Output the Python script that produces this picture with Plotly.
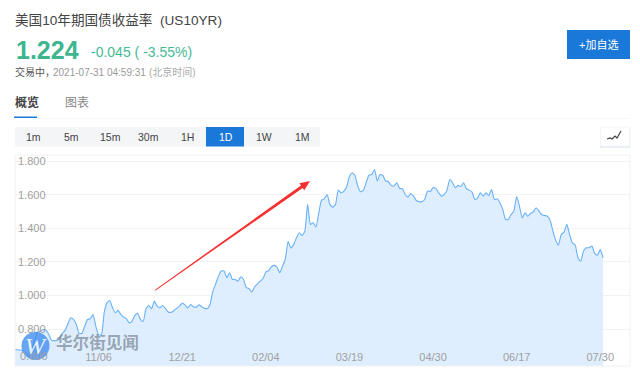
import plotly.graph_objects as go

tick_labels = ["09/23", "11/06", "12/21", "02/04", "03/19", "04/30", "06/17", "07/30"]
y_ticks = [0.6, 0.8, 1.0, 1.2, 1.4, 1.6, 1.8]
y_tick_labels = ["", "0.800", "1.000", "1.200", "1.400", "1.600", "1.800"]
periods = ["1m", "5m", "15m", "30m", "1H", "1D", "1W", "1M"]
yields = [
    .677, .677, .675, .667, .655, .647, .679, .734, .778, .788, .796, .794, .772, .736, .730, .732,
    .748, .774, .792, .833, .867, .857, .827, .774, .774, .817, .857, .861, .887, .817, .766, .766,
    .897, .956, .970, .927, .897, .911, .887, .871, .861, .837, .847, .881, .893, .857, .845, .921,
    .940, .921, .966, .936, .927, .940, .921, .901, .899, .909, .923, .936, .954, .944, .925, .946,
    .933, .929, .944, .933, .923, .921, .948, 1.026, 1.069, 1.115, 1.145, 1.145, 1.105, 1.135, 1.095, 1.095,
    1.085, 1.111, 1.095, 1.046, 1.040, 1.020, 1.052, 1.069, 1.085, 1.101, 1.139, 1.147, 1.171, 1.179, 1.169, 1.135,
    1.175, 1.218, 1.323, 1.282, 1.304, 1.343, 1.373, 1.357, 1.383, 1.542, 1.423, 1.433, 1.407, 1.492, 1.567, 1.575,
    1.601, 1.542, 1.526, 1.542, 1.627, 1.611, 1.621, 1.647, 1.710, 1.730, 1.714, 1.651, 1.617, 1.627, 1.671, 1.716,
    1.720, 1.750, 1.681, 1.720, 1.714, 1.681, 1.677, 1.655, 1.651, 1.671, 1.637, 1.635, 1.601, 1.585, 1.607, 1.591,
    1.565, 1.558, 1.558, 1.571, 1.621, 1.619, 1.641, 1.637, 1.611, 1.591, 1.601, 1.627, 1.690, 1.671, 1.641, 1.655,
    1.649, 1.671, 1.635, 1.627, 1.615, 1.571, 1.581, 1.611, 1.591, 1.611, 1.595, 1.631, 1.571, 1.575, 1.552, 1.512,
    1.452, 1.452, 1.482, 1.502, 1.589, 1.532, 1.462, 1.492, 1.472, 1.488, 1.498, 1.522, 1.502, 1.480, 1.476, 1.472,
    1.448, 1.383, 1.329, 1.300, 1.363, 1.377, 1.423, 1.363, 1.313, 1.300, 1.224, 1.204, 1.265, 1.284, 1.284, 1.294,
    1.250, 1.240, 1.274, 1.224,
]
days = list(range(len(yields)))
tick_days = [d * 30 for d in range(len(tick_labels))]

W, H = 640, 373
L, R, T, B = 15, 630, 155, 366
FONT = "Liberation Sans, Noto Sans CJK SC, sans-serif"


def px(x):
    return (x - L) / (R - L)


def py(y):
    return (B - y) / (B - T)


shapes, annos = [], []


def rect(x0, y0, x1, y1, fill, line=None, layer="above"):
    shapes.append(dict(type="rect", xref="paper", yref="paper", x0=px(x0), x1=px(x1), y0=py(y1), y1=py(y0),
                       fillcolor=fill, line=dict(color=line or fill, width=1 if line else 0), layer=layer))


def text(x, y, s, size, color, anchor="left", bold=False, family=FONT):
    annos.append(dict(xref="paper", yref="paper", x=px(x), y=py(y), text=f"<b>{s}</b>" if bold else s,
                      showarrow=False, xanchor=anchor, yanchor="middle", borderpad=0,
                      font=dict(size=size, color=color, family=family)))


# header
text(13.5, 20, "美国10年期国债收益率&nbsp;&nbsp;(US10YR)", 13.6, "#444444")
text(14.5, 50, "1.224", 25, "#3db58f", bold=True)
text(89.5, 52, "-0.045 ( -3.55%)", 14, "#45b995")
text(13.5, 72, "交易中，", 10, "#555555")
text(52, 72, "2021-07-31 04:59:31", 10, "#999999")
text(148, 72, "(北京时间)", 10, "#aaaaaa")
text(13.5, 103, "概览", 12, "#444444", bold=True)
text(63.5, 103, "图表", 12, "#888888")
rect(14, 116.5, 37, 118, "#1a78d8")
rect(37, 118, 630, 118.8, "#f3f4f6")
rect(567, 30, 630, 59, "#1a78d8")
text(598.5, 45, "+加自选", 11, "#ffffff", "center")

# period buttons
rect(15, 127, 320, 146.5, "#f4f5f7")
rect(206, 127, 244, 146.5, "#1a78d8")
for i, p in enumerate(periods):
    text(33.5 + 38.4 * i, 137, p, 10.5, "#ffffff" if p == "1D" else "#444444", "center")

# chart-type icon button
rect(600, 127.5, 630.5, 148, "#e9eef6")
rect(600.5, 127, 629.5, 146, "#ffffff", line="#f2f4f8")
icon = [(607, 139), (610, 138), (612, 139), (615, 136), (617, 138), (621, 131)]
shapes.append(dict(type="path", xref="paper", yref="paper", layer="above",
                   path="M" + " L".join(f"{px(a)},{py(b)}" for a, b in icon),
                   line=dict(color="#444444", width=1.2)))

# frame and clip of the first date label
rect(0, 345, 15, 366, "#ffffff")
shapes.append(dict(type="rect", xref="paper", yref="paper", x0=0, x1=1, y0=0, y1=1, layer="above",
                   line=dict(color="#f1f1f1", width=1)))

# red arrow
tail, tip = (155, 290.3), (310, 181)
dx, dy = tip[0] - tail[0], tip[1] - tail[1]
n = (dx * dx + dy * dy) ** 0.5
ux, uy, nx, ny = dx / n, dy / n, -dy / n, dx / n
hb = (tip[0] - 10 * ux, tip[1] - 10 * uy)
poly = [(tail[0] + .4 * nx, tail[1] + .4 * ny), (hb[0] + 1.5 * nx, hb[1] + 1.5 * ny), (hb[0] + 4.2 * nx, hb[1] + 4.2 * ny), tip,
        (hb[0] - 4.2 * nx, hb[1] - 4.2 * ny), (hb[0] - 1.5 * nx, hb[1] - 1.5 * ny), (tail[0] - .4 * nx, tail[1] - .4 * ny)]
shapes.append(dict(type="path", xref="paper", yref="paper", layer="above",
                   path="M" + " L".join(f"{px(a)},{py(b)}" for a, b in poly) + " Z",
                   fillcolor="#f5302f", line=dict(color="#f5302f", width=0)))

# lowest y label sits above its gridline
text(19, 356, "0.600", 11, "#a0a0a0")

# watermark
shapes.append(dict(type="circle", xref="paper", yref="paper", layer="above", x0=px(21.5), x1=px(49.5), y0=py(360), y1=py(332),
                   fillcolor="rgba(62,140,240,0.78)", line=dict(width=0)))
text(35.5, 346, "<i>W</i>", 24, "rgba(255,255,255,0.9)", "center", family="Liberation Serif")
text(55, 343, "华尔街见闻", 16.6, "rgba(115,128,142,0.68)", bold=True)

fig = go.Figure(go.Scatter(x=days, y=yields, mode="lines", fill="tozeroy", fillcolor="#dfeefe",
                           line=dict(color="#69b1f8", width=1.1, shape="spline", smoothing=0.5),
                           hoverinfo="skip"))
fig.update_layout(
    width=W, height=H, autosize=False, showlegend=False,
    paper_bgcolor="#ffffff", plot_bgcolor="#ffffff",
    margin=dict(l=L, r=W - R, t=T, b=H - B, pad=0, autoexpand=False),
    shapes=shapes, annotations=annos, font=dict(family=FONT),
    xaxis=dict(range=[0, (R - L) / 2.787], tickmode="array", tickvals=tick_days, ticktext=tick_labels,
               ticklabelposition="inside", ticklabeloverflow="hide past div", automargin=False, ticks="", showgrid=False, zeroline=False,
               showline=False, tickfont=dict(size=11, color="#a0a0a0")),
    yaxis=dict(range=[0.58, 1.836], tickmode="array", tickvals=y_ticks, ticktext=y_tick_labels,
               ticklabelposition="inside", ticklabeloverflow="hide past div", automargin=False, ticks="", showgrid=True, gridcolor="#f2f2f2", gridwidth=1,
               zeroline=False, showline=False, tickfont=dict(size=11, color="#a0a0a0")),
)
fig.write_html("out.html", post_script="document.body.style.margin='0';document.body.style.overflow='hidden';",
               config={"displayModeBar": False})
